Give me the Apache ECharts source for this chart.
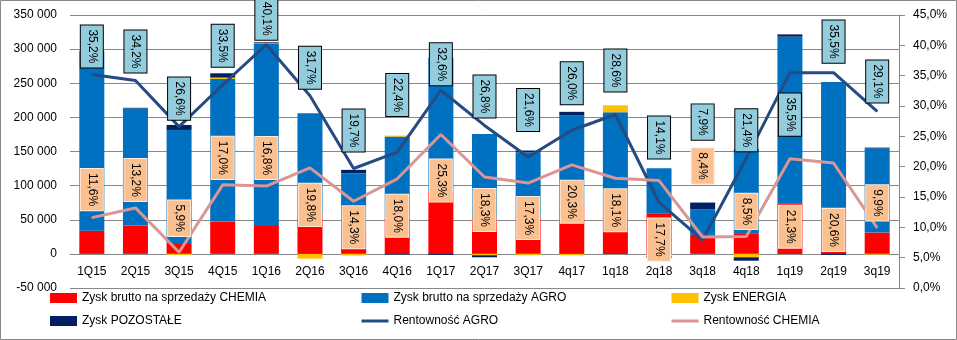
<!DOCTYPE html>
<html><head><meta charset="utf-8">
<script src="https://cdn.jsdelivr.net/npm/echarts@6/dist/echarts.min.js"></script>
<style>html,body{margin:0;padding:0;background:#fff}#c{width:957px;height:340px}</style>
</head><body><div id="c"></div>
<script>
// ---- data ----
const categories = ['1Q15','2Q15','3Q15','4Q15','1Q16','2Q16','3Q16','4Q16','1Q17','2Q17','3Q17','4q17','1q18','2q18','3q18','4q18','1q19','2q19','3q19'];
const chemiaProfit = [34000, 41500, 14600, 47300, 41000, 57000, 38500, 53000, 91000, 52000, 52000, 71700, 62500, 59600, 27800, 30300, 74200, 68000, 31200];
const agroProfit   = [263000, 171500, 167000, 209000, 267500, 149000, 79700, 118800, 196500, 123500, 97000, 131000, 145000, 66000, 37600, 123400, 244000, 184000, 123500];
const energiaProfit = [2500, 0, -1500, 2000, 1000, -7000, -2400, 1500, 0, -2000, -2000, -2000, 10200, -3500, 0, -5000, 0, 0, -1000];
const otherProfit   = [0, 1000, 7300, 6300, 1000, 0, 4900, -1000, -1500, -3000, 2400, 5400, 0, -2500, 9800, -5000, 3400, -1500, 1000];
const agroMargin   = [35.2, 34.2, 26.6, 33.5, 40.1, 31.7, 19.7, 22.4, 32.6, 26.8, 21.6, 26.0, 28.6, 14.1, 7.9, 21.4, 35.5, 35.5, 29.1];
const chemiaMargin = [11.6, 13.2, 5.9, 17.0, 16.8, 19.8, 14.3, 18.0, 25.3, 18.3, 17.3, 20.3, 18.1, 17.7, 8.4, 8.5, 21.3, 20.6, 9.9];
const leftTicks = { min: -50000, max: 350000, step: 50000 };
const rightTicks = { min: 0, max: 45, step: 5 };

// ---- layout (label placement, px, vertical shift from the line point) ----
const agroLabelShift   = [-28, -29, -28, -39, -26, -28, -38, -57, -26, -29, -47, -47, -44, -65, -118, -28, 42, -31, -30];
const chemiaLabelShift = [-28, -28, -34, -27, -28, 37, 26, 37, 46, 33, 35, 37, 32, 59, -71, -25, 68, 67, -25];

const NAMES = {
  chemia: 'Zysk brutto na sprzedaży CHEMIA',
  agro: 'Zysk brutto na sprzedaży AGRO',
  energia: 'Zysk ENERGIA',
  other: 'Zysk POZOSTAŁE',
  rAgro: 'Rentowność AGRO',
  rChemia: 'Rentowność CHEMIA'
};
const FONT = '"Liberation Sans", Arial, sans-serif';
const pct = v => Number(v).toFixed(1).replace('.', ',') + '%';
const thousands = v => (v < 0 ? '-' : '') + Math.abs(v).toString().replace(/\B(?=(\d{3})+(?!\d))/g, ' ');

const chart = echarts.init(document.getElementById('c'), null, { renderer: 'canvas' });

function barSeries(name, data, color) {
  return { name, type: 'bar', stack: 'p', data, barWidth: 25, itemStyle: { color }, emphasis: { disabled: true }, z: 2 };
}
function lineSeries(name, data, shifts, color, bg, border) {
  return {
    name, type: 'line', yAxisIndex: 1, z: 5,
    symbol: 'circle', symbolSize: 1, itemStyle: { color },
    lineStyle: { color, width: 3 },
    emphasis: { disabled: true },
    // label is rotated -90deg, so its local x-axis points down on screen
    data: data.map((v, i) => ({ value: v, label: { offset: [shifts[i], 0] } })),
    label: {
      show: true, position: 'inside', rotate: -90,
      formatter: p => pct(p.value),
      color: '#000', fontSize: 12, fontFamily: FONT, lineHeight: 14,
      backgroundColor: bg, borderColor: border, borderWidth: 1, padding: [4, 4, 4, 4]
    }
  };
}
const legendBase = { orient: 'vertical', top: 292, itemGap: 11, itemWidth: 27, itemHeight: 10, padding: 0,
  textStyle: { color: '#000', fontSize: 12, fontFamily: FONT }, selectedMode: false };
const lineLegendItem = name => ({ name, itemStyle: { opacity: 0 }, lineStyle: { width: 3 } });

chart.setOption({
  animation: false,
  backgroundColor: '#fff',
  textStyle: { fontFamily: FONT },
  graphic: [{ type: 'rect', shape: { x: 0.5, y: 0.5, width: 956, height: 339 }, style: { fill: 'none', stroke: '#888', lineWidth: 1 }, silent: true }],
  grid: { left: 70, right: 58, top: 15, bottom: 52 },
  legend: [
    Object.assign({ left: 50, data: [{ name: NAMES.chemia, icon: 'rect' }, { name: NAMES.other, icon: 'rect' }] }, legendBase),
    Object.assign({ left: 360, data: [{ name: NAMES.agro, icon: 'rect' }, lineLegendItem(NAMES.rAgro)] }, legendBase),
    Object.assign({ left: 670, data: [{ name: NAMES.energia, icon: 'rect' }, lineLegendItem(NAMES.rChemia)] }, legendBase)
  ],
  xAxis: {
    type: 'category', data: categories, position: 'bottom', offset: -34.125,
    axisLine: { onZero: false, lineStyle: { color: '#888', width: 1 } },
    axisTick: { show: false },
    axisLabel: { interval: 0, margin: 12, color: '#000', fontSize: 12, fontFamily: FONT, hideOverlap: false }
  },
  yAxis: [
    { type: 'value', min: leftTicks.min, max: leftTicks.max, interval: leftTicks.step,
      axisLine: { show: false }, axisTick: { show: false },
      splitLine: { lineStyle: { color: '#888', width: 1 } },
      axisLabel: { margin: 13, color: '#000', fontSize: 12, fontFamily: FONT, formatter: thousands } },
    { type: 'value', position: 'right', min: rightTicks.min, max: rightTicks.max, interval: rightTicks.step,
      axisLine: { show: true, lineStyle: { color: '#888' } },
      axisTick: { show: true, length: 6, lineStyle: { color: '#888' } },
      splitLine: { show: false },
      axisLabel: { margin: 14, color: '#000', fontSize: 12, fontFamily: FONT, formatter: pct } }
  ],
  series: [
    barSeries(NAMES.chemia, chemiaProfit, '#FF0000'),
    barSeries(NAMES.agro, agroProfit, '#0070C0'),
    barSeries(NAMES.energia, energiaProfit, '#FFC000'),
    barSeries(NAMES.other, otherProfit, '#002060'),
    lineSeries(NAMES.rAgro, agroMargin, agroLabelShift, '#254B82', '#93CDDD', '#000'),
    lineSeries(NAMES.rChemia, chemiaMargin, chemiaLabelShift, '#D99694', '#FAC090', '#FDEADA')
  ]
});
</script></body></html>
